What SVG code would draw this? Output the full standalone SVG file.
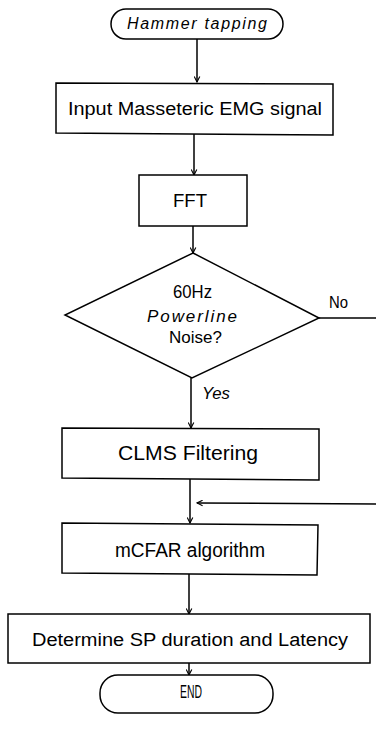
<svg xmlns="http://www.w3.org/2000/svg" width="376" height="730" viewBox="0 0 376 730">
<defs>
<marker id="arr" viewBox="0 0 10 10" refX="9" refY="5" markerWidth="7" markerHeight="7" orient="auto" markerUnits="userSpaceOnUse">
<path d="M1,1 L9,5 L1,9" fill="none" stroke="#000" stroke-width="1.6"/>
</marker>
</defs>
<style>
.box{fill:#fff;stroke:#000;stroke-width:1.5}
.ln{fill:none;stroke:#000;stroke-width:1.5}
.t{font-family:"Liberation Sans",Arial,sans-serif;fill:#000;text-anchor:start}
.it{font-style:italic}
</style>
<rect width="376" height="730" fill="#fff"/>
<g id="connectors">
<line class="ln" x1="197" y1="39" x2="197" y2="82" marker-end="url(#arr)"/>
<line class="ln" x1="194" y1="134" x2="194" y2="175" marker-end="url(#arr)"/>
<line class="ln" x1="193" y1="226" x2="193" y2="253" marker-end="url(#arr)"/>
<line class="ln" x1="191" y1="378" x2="191" y2="428" marker-end="url(#arr)"/>
<line class="ln" x1="190" y1="479" x2="190" y2="523" marker-end="url(#arr)"/>
<line class="ln" x1="319" y1="318" x2="376" y2="318"/>
<line class="ln" x1="376" y1="504" x2="197" y2="503" marker-end="url(#arr)"/>
<line class="ln" x1="189" y1="574" x2="189" y2="614" marker-end="url(#arr)"/>
<line class="ln" x1="189" y1="663" x2="189" y2="675" marker-end="url(#arr)"/>
<text class="t" x="329" y="308" font-size="16" textLength="19" lengthAdjust="spacingAndGlyphs">No</text>
<text class="t it" x="202" y="399" font-size="16" textLength="28" lengthAdjust="spacingAndGlyphs">Yes</text>
</g>
<g id="start">
<rect class="box" x="111" y="9" width="172" height="30" rx="15" ry="15"/>
<text class="t it" x="127" y="29" font-size="16" textLength="140" lengthAdjust="spacing">Hammer tapping</text>
</g>
<g id="input">
<polygon class="box" points="56,83 333,84 333,135 56,133"/>
<text class="t" x="68" y="115" font-size="18" textLength="254" lengthAdjust="spacingAndGlyphs">Input Masseteric EMG signal</text>
</g>
<g id="fft">
<rect class="box" x="139" y="175" width="108" height="51"/>
<text class="t" x="173" y="207" font-size="19" textLength="34" lengthAdjust="spacingAndGlyphs">FFT</text>
</g>
<g id="decision">
<polygon class="box" points="193,253 319,318 192,378 65,315"/>
<text class="t" x="173" y="298" font-size="19" textLength="39" lengthAdjust="spacingAndGlyphs">60Hz</text>
<text class="t it" x="147" y="322" font-size="17" textLength="90" lengthAdjust="spacing">Powerline</text>
<text class="t" x="169" y="343" font-size="17" textLength="53" lengthAdjust="spacing">Noise?</text>
</g>
<g id="clms">
<polygon class="box" points="62,428 319,429 319,480 62,478"/>
<text class="t" x="118" y="460" font-size="20" textLength="140" lengthAdjust="spacingAndGlyphs">CLMS Filtering</text>
</g>
<g id="mcfar">
<polygon class="box" points="62,523 318,525 317,575 62,573"/>
<text class="t" x="115" y="557" font-size="20" textLength="150" lengthAdjust="spacingAndGlyphs">mCFAR algorithm</text>
</g>
<g id="determine">
<rect class="box" x="8" y="614" width="362" height="49"/>
<text class="t" x="32" y="646" font-size="18" textLength="316" lengthAdjust="spacingAndGlyphs">Determine SP duration and Latency</text>
</g>
<g id="end">
<rect class="box" x="100" y="675" width="173" height="38" rx="18" ry="18"/>
<text class="t" x="180" y="698" font-size="19" textLength="22" lengthAdjust="spacingAndGlyphs">END</text>
</g>
</svg>
